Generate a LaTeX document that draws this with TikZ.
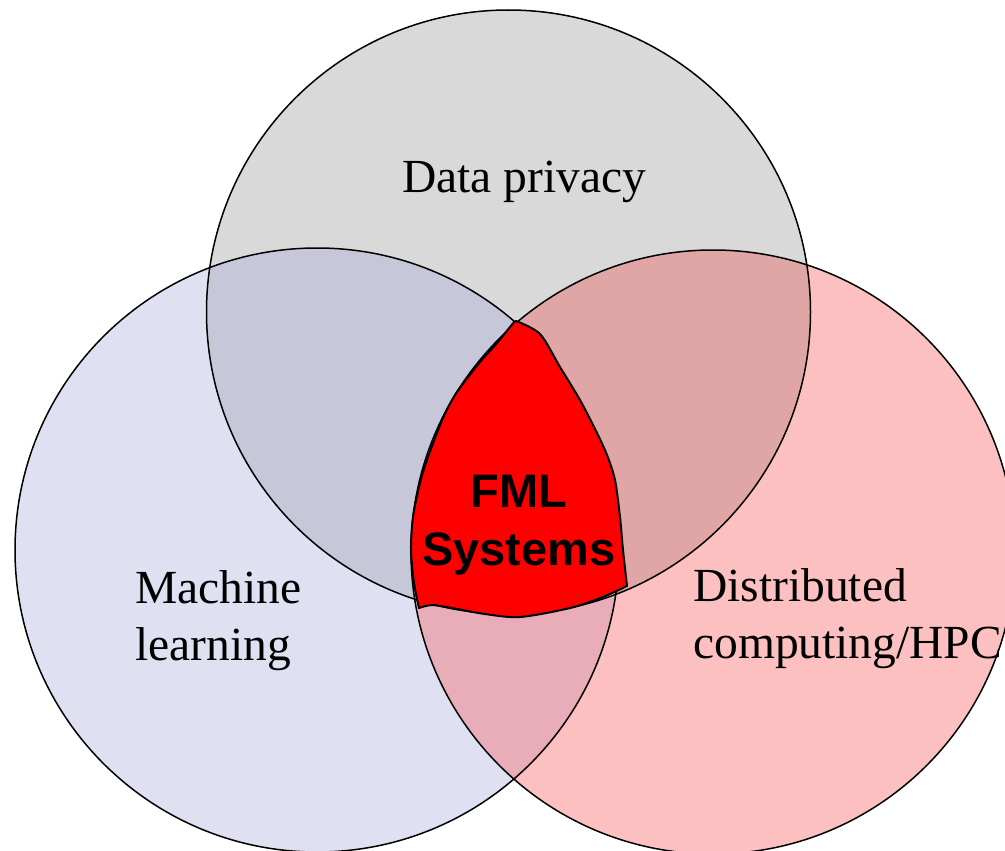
\documentclass[tikz,border=0pt]{standalone}
\usepackage{fontspec}
\setmainfont{Liberation Serif}
\newfontfamily\labelsans{Liberation Sans}

\definecolor{topfill}{RGB}{217,217,217}
\definecolor{leftfill}{RGB}{224,224,243}
\definecolor{rightfill}{RGB}{253,192,193}
\definecolor{tlfill}{RGB}{198,200,218}
\definecolor{trfill}{RGB}{224,166,166}
\definecolor{lrfill}{RGB}{232,173,184}
\definecolor{fmlred}{RGB}{255,0,0}

\begin{document}
\begin{tikzpicture}[x=1pt,y=-1pt,
  venn/.style={draw=black,line width=1.5pt},
  setlabel/.style={inner sep=0pt,anchor=base west,align=left,
                   font=\fontsize{47.5}{57}\selectfont},
  corelabel/.style={inner sep=0pt,anchor=base,align=center,
                    font=\labelsans\bfseries\fontsize{47}{58}\selectfont},
  core/.style={fill=fmlred,draw=black,line width=2pt,line join=round}]
\useasboundingbox (0,0) rectangle (1005,851);

% circle centres
\coordinate (cT) at (508.5,312);
\coordinate (cL) at (317,550);
\coordinate (cR) at (713,552);

% single-set fills
\fill[topfill]   (cT) circle[radius=302pt];
\fill[leftfill]  (cL) circle[radius=302pt];
\fill[rightfill] (cR) circle[radius=302pt];

% pairwise overlaps
\begin{scope}
  \clip (cT) circle[radius=302pt];
  \fill[tlfill] (cL) circle[radius=302pt];
  \fill[trfill] (cR) circle[radius=302pt];
\end{scope}
\begin{scope}
  \clip (cL) circle[radius=302pt];
  \fill[lrfill] (cR) circle[radius=302pt];
\end{scope}

% outlines
\draw[venn] (cT) circle[radius=302pt];
\draw[venn] (cL) circle[radius=302pt];
\draw[venn] (cR) circle[radius=302pt];

% hand-drawn core region
\draw[core]
  plot[smooth] coordinates {(514,322) (497,343) (480,362) (457,392) (443,418)
                            (428,457) (420,483) (413,517) (411,550) (414,583) (419,608)}
  -- plot[smooth] coordinates {(419,608) (432,605) (452,608) (485,614) (520,617)
                               (570,608) (603,597) (627,586)}
  -- plot[smooth] coordinates {(627,586) (623,550) (620,517) (615,480) (607,455)
                               (597,433) (580,400) (560,367) (540,334) (516,321)}
  -- cycle;

% labels (multi-line nodes sit on the baseline of their last line)
\node[setlabel] (privacy) at (402,192) {Data privacy};
\node[setlabel] (ml) at (135,660) {Machine\\learning};
\node[setlabel] (dist) at (693,658) {Distributed\\computing/HPC};
\node[corelabel] (fml) at (519,565) {FML\\Systems};
\end{tikzpicture}
\end{document}
